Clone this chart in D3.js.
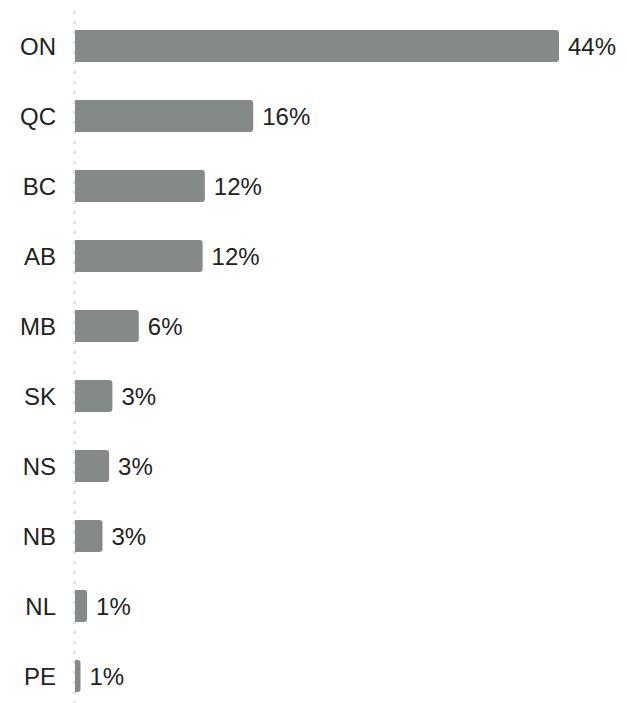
<!DOCTYPE html>
<html>
<head>
<meta charset="utf-8">
<script src="https://cdn.jsdelivr.net/npm/d3@7"></script>
<style>
  body { margin: 0; background: #fff; }
  svg { display: block; }
</style>
</head>
<body>
<div id="chart"></div>
<script>
var provinces = ["ON", "QC", "BC", "AB", "MB", "SK", "NS", "NB", "NL", "PE"];
var shares = [44.0, 16.2, 11.8, 11.6, 5.8, 3.4, 3.1, 2.5, 1.1, 0.5];

var w = 627,
	h = 703,
	marginLeft = 75,
	marginTop = 11;

var x = d3.scaleLinear()
	.domain([0, 44])
	.range([marginLeft, 559]);

var y = d3.scaleBand()
	.domain(provinces)
	.range([marginTop, marginTop + 700])
	.paddingInner(0.543)
	.paddingOuter(0.271);

var svg = d3.select("#chart")
	.append("svg")
	.attr("width", w)
	.attr("height", h);

// dotted baseline
svg.append("line")
	.attr("x1", marginLeft - 0.5)
	.attr("x2", marginLeft - 0.5)
	.attr("y1", marginTop)
	.attr("y2", h)
	.attr("stroke", "#e2e2e2")
	.attr("stroke-width", 3)
	.attr("stroke-dasharray", "3,7");

// bar with rounded right end only
function barPath(x0, y0, bw, bh, r) {
	r = Math.min(r, bw / 2);
	return "M" + x0 + "," + y0 +
		"H" + (x0 + bw - r) +
		"Q" + (x0 + bw) + "," + y0 + " " + (x0 + bw) + "," + (y0 + r) +
		"V" + (y0 + bh - r) +
		"Q" + (x0 + bw) + "," + (y0 + bh) + " " + (x0 + bw - r) + "," + (y0 + bh) +
		"H" + x0 + "Z";
}

var rows = svg.selectAll(".row")
	.data(provinces)
	.enter()
	.append("g")
	.attr("class", "row");

rows.append("path")
	.attr("d", function(d, i) {
		return barPath(x(0), y(d), x(shares[i]) - x(0), y.bandwidth(), 3);
	})
	.attr("fill", "#858989");

rows.append("text")
	.attr("x", 56)
	.attr("y", function(d) { return y(d) + y.bandwidth() / 2; })
	.attr("dy", "0.36em")
	.attr("text-anchor", "end")
	.attr("font-family", "'Liberation Sans', Arial, sans-serif")
	.attr("font-size", 24)
	.attr("fill", "#222")
	.text(function(d) { return d; });

rows.append("text")
	.attr("x", function(d, i) { return x(shares[i]) + 9; })
	.attr("y", function(d) { return y(d) + y.bandwidth() / 2; })
	.attr("dy", "0.36em")
	.attr("font-family", "'Liberation Sans', Arial, sans-serif")
	.attr("font-size", 24)
	.attr("fill", "#222")
	.text(function(d, i) { return Math.round(shares[i]) + "%"; });
</script>
</body>
</html>
